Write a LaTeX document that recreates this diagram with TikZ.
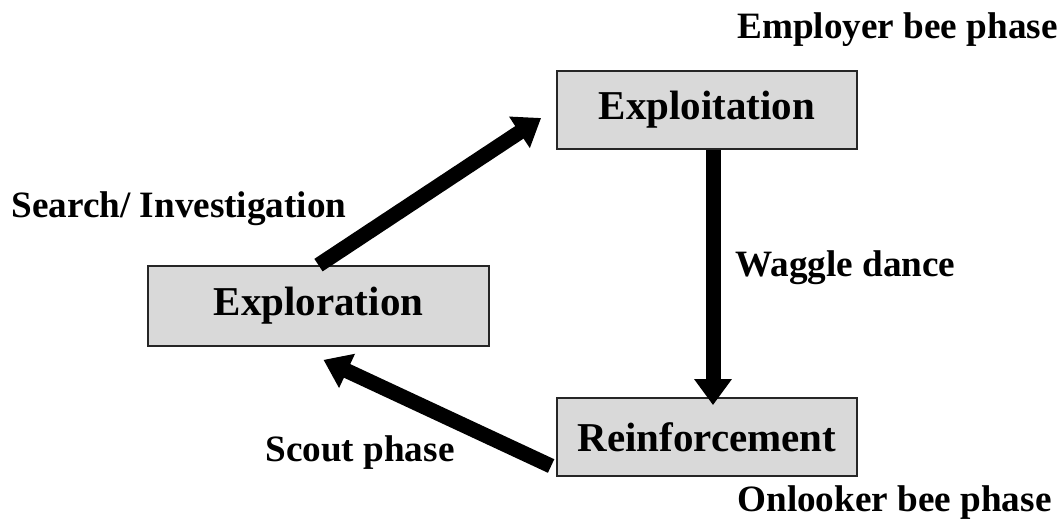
\documentclass[tikz,border=0pt]{standalone}
\usepackage{fontspec}
\setmainfont{Liberation Serif}
\usetikzlibrary{arrows.meta}

\begin{document}
\begin{tikzpicture}[x=0.5pt, y=-0.5pt,
phasebox/.style={rectangle, draw=black!85, fill=black!15, line width=0.9pt, inner sep=0pt,
  minimum width=150pt, minimum height=39pt, font=\fontsize{20.5}{24}\selectfont\bfseries},
label/.style={anchor=base west, inner sep=0pt, font=\fontsize{18.6}{22}\selectfont\bfseries},
flow/.style={line width=7.5pt, -{Triangle[length=13pt, width=18pt]}}
]
\useasboundingbox (0,0) rectangle (1062,521);
%Nodes
\node[phasebox]                        (exploit)   at (707,110)   {Exploitation};
\node[phasebox, minimum width=170.5pt, minimum height=40pt] (explore) at (318.5,306) {Exploration};
\node[phasebox]                        (reinforce) at (707,437)   {Reinforcement};
\node[label]  (employer) at (737,38)   {Employer bee phase};
\node[label]  (search)   at (11,217)   {Search/ Investigation};
\node[label]  (waggle)   at (735,276)  {Waggle dance};
\node[label]  (scout)    at (265,461)  {Scout phase};
\node[label]  (onlooker) at (737,511)  {Onlooker bee phase};
%Lines
\draw[flow] (explore.north) -- ([xshift=-7.5pt, yshift=-4pt]exploit.west);
\draw[flow] ([xshift=3pt]exploit.south) -- ([xshift=3pt, yshift=-4pt]reinforce.north);
\draw[flow] ([xshift=-2.5pt, yshift=-14.5pt]reinforce.west) -- ([xshift=2.5pt, yshift=-6.5pt]explore.south);
\end{tikzpicture}
\end{document}
